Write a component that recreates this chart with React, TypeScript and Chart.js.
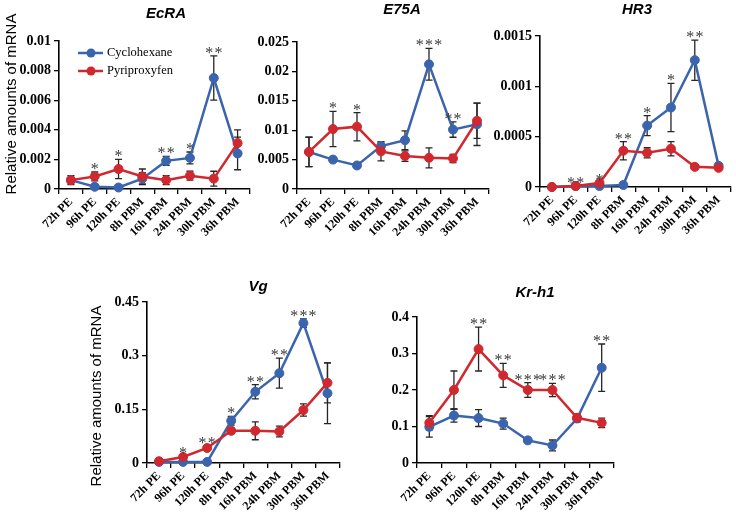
import React, { useEffect, useRef } from "react";
import { Chart, registerables } from "chart.js";

Chart.register(...registerables);

// ---------- data ----------
const categories = ["72h PE", "96h PE", "120h PE", "8h PBM", "16h PBM", "24h PBM", "30h PBM", "36h PBM"];
const seriesNames = ["Cyclohexane", "Pyriproxyfen"];

const ecraCyclo = [0.0006, 0.00015, 0.0001, 0.0007, 0.0019, 0.0021, 0.0075, 0.0024];
const ecraCycloErr = [0.0003, 0.0001, 0.00005, 0.0004, 0.0003, 0.0004, 0.0015, 0.0011];
const ecraPyri = [0.0006, 0.00085, 0.00135, 0.00085, 0.0006, 0.0009, 0.0007, 0.0031];
const ecraPyriErr = [0.0002, 0.0003, 0.00065, 0.0005, 0.0003, 0.0003, 0.0005, 0.0009];
const ecraSig = ["", "*", "*", "", "**", "*", "**", ""];

const e75Cyclo = [0.0063, 0.005, 0.004, 0.0073, 0.0083, 0.0212, 0.0101, 0.011];
const e75CycloErr = [0.0025, 0.0004, 0.0003, 0.0007, 0.0016, 0.0027, 0.0013, 0.0036];
const e75Pyri = [0.0063, 0.0102, 0.0106, 0.0064, 0.0056, 0.0053, 0.0052, 0.0116];
const e75PyriErr = [0.0025, 0.003, 0.0024, 0.0016, 0.0009, 0.0017, 0.0007, 0.003];
const e75Sig = ["", "*", "*", "", "", "***", "**", ""];

const hr3Cyclo = [0.0, 0.00001, 0.00001, 0.00002, 0.00061, 0.00079, 0.00126, 0.00021];
const hr3CycloErr = [0, 0, 0, 0, 0.0001, 0.00024, 0.0002, 0.00003];
const hr3Pyri = [0.0, 0.00001, 0.00004, 0.00036, 0.00034, 0.00038, 0.0002, 0.00019];
const hr3PyriErr = [0, 0, 0, 0.00009, 0.00005, 0.00007, 0.00001, 0.00002];
const hr3Sig = ["", "**", "*", "**", "*", "*", "**", ""];

const vgCyclo = [0.003, 0.003, 0.003, 0.118, 0.199, 0.251, 0.391, 0.195];
const vgCycloErr = [0, 0, 0, 0.012, 0.02, 0.042, 0.012, 0.085];
const vgPyri = [0.005, 0.017, 0.042, 0.09, 0.09, 0.088, 0.148, 0.224];
const vgPyriErr = [0, 0.003, 0.005, 0.008, 0.025, 0.015, 0.017, 0.056];
const vgSig = ["", "*", "**", "*", "**", "**", "***", ""];

const krCyclo = [0.099, 0.13, 0.123, 0.108, 0.062, 0.048, 0.122, 0.261];
const krCycloErr = [0.028, 0.018, 0.023, 0.015, 0.003, 0.015, 0.01, 0.065];
const krPyri = [0.11, 0.2, 0.312, 0.24, 0.2, 0.2, 0.124, 0.11];
const krPyriErr = [0.02, 0.052, 0.06, 0.033, 0.02, 0.018, 0.01, 0.013];
const krSig = ["", "", "**", "**", "***", "***", "", "**"];

// ---------- styles / layout ----------
const BLUE = "#3A64AE";
const RED = "#D0282E";
const SERIF = "'Liberation Serif', 'Times New Roman', serif";
const SANS = "'Liberation Sans', Arial, sans-serif";
const Y_LABEL = "Relative amounts of mRNA";

type Rect = { left: number; top: number; width: number; height: number };
type Area = { left: number; top: number; right: number; bottom: number };
type PanelCfg = {
  title: string;
  cyclo: number[];
  cycloErr: number[];
  pyri: number[];
  pyriErr: number[];
  sig: string[];
  yMax: number;
  yStep: number;
  canvas: Rect;
  area: Area;
  titlePos: [number, number];
  yLabelPos?: [number, number];
  legend?: boolean;
};

const panels: PanelCfg[] = [
  {
    title: "EcRA", cyclo: ecraCyclo, cycloErr: ecraCycloErr, pyri: ecraPyri, pyriErr: ecraPyriErr, sig: ecraSig,
    yMax: 0.01, yStep: 0.002,
    canvas: { left: 0, top: 0, width: 255, height: 260 },
    area: { left: 59, top: 41, right: 251, bottom: 189 },
    titlePos: [166, 14], yLabelPos: [12, 104], legend: true,
  },
  {
    title: "E75A", cyclo: e75Cyclo, cycloErr: e75CycloErr, pyri: e75Pyri, pyriErr: e75PyriErr, sig: e75Sig,
    yMax: 0.025, yStep: 0.005,
    canvas: { left: 250, top: 0, width: 245, height: 260 },
    area: { left: 297, top: 42, right: 489, bottom: 189 },
    titlePos: [402, 10],
  },
  {
    title: "HR3", cyclo: hr3Cyclo, cycloErr: hr3CycloErr, pyri: hr3Pyri, pyriErr: hr3PyriErr, sig: hr3Sig,
    yMax: 0.0015, yStep: 0.0005,
    canvas: { left: 490, top: 0, width: 246, height: 260 },
    area: { left: 540, top: 36, right: 733, bottom: 187 },
    titlePos: [637, 10],
  },
  {
    title: "Vg", cyclo: vgCyclo, cycloErr: vgCycloErr, pyri: vgPyri, pyriErr: vgPyriErr, sig: vgSig,
    yMax: 0.45, yStep: 0.15,
    canvas: { left: 80, top: 260, width: 265, height: 260 },
    area: { left: 147, top: 302, right: 340, bottom: 463 },
    titlePos: [258, 287], yLabelPos: [97, 396],
  },
  {
    title: "Kr-h1", cyclo: krCyclo, cycloErr: krCycloErr, pyri: krPyri, pyriErr: krPyriErr, sig: krSig,
    yMax: 0.4, yStep: 0.1,
    canvas: { left: 360, top: 260, width: 260, height: 260 },
    area: { left: 417, top: 317, right: 614, bottom: 463 },
    titlePos: [535, 293],
  },
];

function Panel({ p }: { p: PanelCfg }) {
  const ref = useRef<HTMLCanvasElement>(null);
  const c = p.canvas;
  const a = p.area;

  useEffect(() => {
    const canvas = ref.current;
    if (!canvas) return;
    const lx = (x: number) => x - c.left;
    const ly = (y: number) => y - c.top;

    const plugin = {
      id: "annot_" + p.title,
      beforeDatasetsDraw(chart: any) {
        const ctx = chart.ctx as CanvasRenderingContext2D;
        const xs = chart.scales.x;
        const ys = chart.scales.y;
        ctx.save();
        ctx.strokeStyle = "#262626";
        ctx.lineWidth = 1.3;
        const series: [number[], number[]][] = [
          [p.cyclo, p.cycloErr],
          [p.pyri, p.pyriErr],
        ];
        for (const [vals, errs] of series) {
          vals.forEach((v, i) => {
            const e = errs[i];
            if (!e) return;
            const px = xs.getPixelForValue(i);
            const top = ys.getPixelForValue(v + e);
            const bot = ys.getPixelForValue(Math.max(v - e, 0));
            ctx.beginPath();
            ctx.moveTo(px, top);
            ctx.lineTo(px, bot);
            ctx.moveTo(px - 3.5, top);
            ctx.lineTo(px + 3.5, top);
            ctx.moveTo(px - 3.5, bot);
            ctx.lineTo(px + 3.5, bot);
            ctx.stroke();
          });
        }
        ctx.restore();
      },
      afterDatasetsDraw(chart: any) {
        const ctx = chart.ctx as CanvasRenderingContext2D;
        const xs = chart.scales.x;
        const ys = chart.scales.y;
        ctx.save();
        ctx.fillStyle = "#3a3a3a";
        ctx.font = `16px ${SERIF}`;
        ctx.textAlign = "left";
        ctx.textBaseline = "alphabetic";
        const gap = 1.2;
        p.sig.forEach((s, i) => {
          if (!s) return;
          const hi = Math.max(p.cyclo[i] + p.cycloErr[i], p.pyri[i] + p.pyriErr[i]);
          const px = xs.getPixelForValue(i);
          const top = ys.getPixelForValue(hi);
          const w = ctx.measureText("*").width;
          const total = s.length * w + (s.length - 1) * gap;
          let x0 = px - total / 2;
          for (let k = 0; k < s.length; k++) {
            ctx.fillText("*", x0, top + 2);
            x0 += w + gap;
          }
        });
        ctx.restore();
      },
      afterDraw(chart: any) {
        const ctx = chart.ctx as CanvasRenderingContext2D;
        ctx.save();
        ctx.fillStyle = "#000";
        ctx.font = `italic bold 15px ${SANS}`;
        ctx.textAlign = "center";
        ctx.textBaseline = "middle";
        ctx.fillText(p.title, lx(p.titlePos[0]), ly(p.titlePos[1]));
        if (p.yLabelPos) {
          ctx.save();
          ctx.translate(lx(p.yLabelPos[0]), ly(p.yLabelPos[1]));
          ctx.rotate(-Math.PI / 2);
          ctx.font = `15px ${SANS}`;
          ctx.fillText(Y_LABEL, 0, 0);
          ctx.restore();
        }
        if (p.legend) {
          const items: [string, string, number][] = [
            [seriesNames[0], BLUE, 53],
            [seriesNames[1], RED, 71],
          ];
          for (const [name, col, y] of items) {
            ctx.strokeStyle = col;
            ctx.fillStyle = col;
            ctx.lineWidth = 2.5;
            ctx.beginPath();
            ctx.moveTo(lx(78), ly(y));
            ctx.lineTo(lx(103), ly(y));
            ctx.stroke();
            ctx.beginPath();
            ctx.arc(lx(91), ly(y), 4.5, 0, Math.PI * 2);
            ctx.fill();
            ctx.fillStyle = "#000";
            ctx.font = `12.5px ${SERIF}`;
            ctx.textAlign = "left";
            ctx.fillText(name, lx(107), ly(y));
          }
        }
        ctx.restore();
      },
    };

    const ds = (label: string, data: number[], col: string, order: number) => ({
      label,
      data,
      borderColor: col,
      backgroundColor: col,
      pointBackgroundColor: col,
      pointBorderColor: col,
      pointRadius: 4.5,
      pointBorderWidth: 1,
      borderWidth: 2.5,
      tension: 0,
      order,
      clip: false as any,
    });

    const chart = new Chart(canvas, {
      type: "line",
      data: {
        labels: categories,
        datasets: [ds(seriesNames[0], p.cyclo, BLUE, 2), ds(seriesNames[1], p.pyri, RED, 1)],
      },
      options: {
        responsive: false,
        animation: false,
        devicePixelRatio: 1,
        layout: {
          padding: { left: 0, top: a.top - c.top, right: c.left + c.width - a.right, bottom: 0 },
        },
        plugins: {
          legend: { display: false },
          tooltip: { enabled: false },
          title: { display: false },
        },
        scales: {
          x: {
            type: "category",
            offset: true,
            grid: {
              display: true,
              drawOnChartArea: false,
              drawTicks: true,
              tickLength: 5,
              color: "#000",
              lineWidth: 1.3,
              offset: true,
            },
            border: { display: true, color: "#000", width: 1.6 },
            ticks: {
              color: "#000",
              font: { family: SERIF, weight: "bold", size: 12 },
              minRotation: 45,
              maxRotation: 45,
              autoSkip: false,
              padding: 1,
            },
            afterFit: (s: any) => {
              s.height = c.top + c.height - a.bottom;
            },
          },
          y: {
            type: "linear",
            min: 0,
            max: p.yMax,
            grid: {
              display: true,
              drawOnChartArea: false,
              drawTicks: true,
              tickLength: 5,
              color: "#000",
              lineWidth: 1.3,
            },
            border: { display: true, color: "#000", width: 1.6 },
            ticks: {
              stepSize: p.yStep,
              color: "#000",
              font: { family: SERIF, weight: "bold", size: 14 },
              padding: 3,
              callback: (v: any) => String(parseFloat(Number(v).toFixed(6))),
            },
            afterFit: (s: any) => {
              s.width = a.left - c.left;
            },
          },
        },
      } as any,
      plugins: [plugin as any],
    });
    return () => chart.destroy();
  }, []);

  return (
    <canvas
      ref={ref}
      width={c.width}
      height={c.height}
      style={{ position: "absolute", left: c.left, top: c.top, width: c.width, height: c.height }}
    />
  );
}

export default function App() {
  return (
    <div style={{ position: "absolute", left: 0, top: 0, width: 736, height: 520, background: "#fff" }}>
      {panels.map((p) => (
        <Panel key={p.title} p={p} />
      ))}
    </div>
  );
}
